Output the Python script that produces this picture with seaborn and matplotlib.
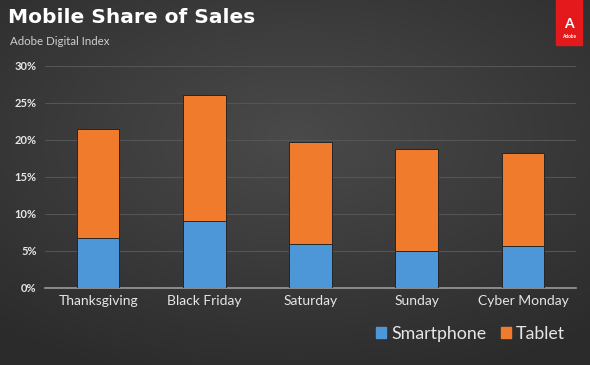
import numpy as np
import pandas as pd
import matplotlib
matplotlib.use("Agg")
import matplotlib.pyplot as plt
from matplotlib.patches import Rectangle, Patch
import seaborn as sns

# data (percent of sales)
categories = ["Thanksgiving", "Black Friday", "Saturday", "Sunday", "Cyber Monday"]
smartphone = [6.7, 9.0, 6.0, 5.0, 5.7]
tablet = [14.8, 17.0, 13.7, 13.7, 12.5]
yticks = [0, 5, 10, 15, 20, 25, 30]

BLUE = "#4d97d8"
ORANGE = "#f07b2c"
TXT = "#e6e6e6"

df = pd.DataFrame({"day": categories,
                   "Smartphone": smartphone,
                   "Tablet": tablet})
df["total"] = df["Smartphone"] + df["Tablet"]

sns.set_theme(style="dark")
plt.rcParams["font.family"] = ["Lato", "DejaVu Sans"]

fig = plt.figure(figsize=(5.9, 3.65), dpi=100)

# dark gradient backdrop, lighter towards the upper middle
bg = fig.add_axes([0, 0, 1, 1], zorder=-10)
xx, yy = np.meshgrid(np.linspace(-1, 1, 300), np.linspace(-1, 1, 200))
r = np.sqrt((xx * 0.9) ** 2 + ((yy + 0.25) * 1.0) ** 2)
shade = 0.29 - 0.12 * np.clip(r, 0, 1.4) / 1.4
bg.imshow(np.dstack([shade] * 3), aspect="auto", extent=[0, 1, 0, 1])
bg.set_axis_off()

ax = fig.add_axes([45 / 590, 77 / 365, 531 / 590, 222.5 / 365])
ax.set_facecolor("none")

sns.barplot(data=df, x="day", y="total", color=ORANGE, width=0.4,
            saturation=1, edgecolor="#262626", linewidth=0.7, ax=ax, zorder=3)
sns.barplot(data=df, x="day", y="Smartphone", color=BLUE, width=0.4,
            saturation=1, edgecolor="#262626", linewidth=0.7, ax=ax, zorder=4)

ax.set_xlim(-0.5, 4.5)
ax.set_ylim(0, 30)
ax.set_yticks(yticks)
ax.set_yticklabels([f"{v}%" for v in yticks], color=TXT, fontsize=8, fontweight="bold")
ax.tick_params(axis="y", pad=6, length=0)
ax.tick_params(axis="x", pad=5, length=0, labelsize=10, labelcolor=TXT)
ax.set_xlabel("")
ax.set_ylabel("")
ax.grid(axis="y", color="#555555", linewidth=0.8, zorder=0)
ax.grid(axis="x", visible=False)
for s in ["top", "right", "left"]:
    ax.spines[s].set_visible(False)
ax.spines["bottom"].set_color("#9a9a9a")
ax.spines["bottom"].set_linewidth(1.2)

# title block
fig.text(8 / 590, 1 - 8 / 365, "Mobile Share of Sales", color="white",
         fontsize=14.5, fontweight="bold", family="DejaVu Sans", va="top")
fig.text(10 / 590, 1 - 36 / 365, "Adobe Digital Index", color="#cfcfcf",
         fontsize=8.3, va="top")

# adobe tag
fig.patches.append(Rectangle((556 / 590, 1 - 45 / 365), 26 / 590, 45 / 365,
                             transform=fig.transFigure, color="#e3191b", zorder=5))
fig.text(569 / 590, 1 - 24 / 365, "A", color="white", fontsize=10,
         fontweight="bold", ha="center", va="center", zorder=6)
fig.text(569 / 590, 1 - 36 / 365, "Adobe", color="white", fontsize=3.5,
         fontweight="bold", ha="center", va="center", zorder=6)

handles = [Patch(color=BLUE, label="Smartphone"), Patch(color=ORANGE, label="Tablet")]
leg = fig.legend(handles=handles, loc="lower right", bbox_to_anchor=(0.985, 0.02),
                 ncol=2, frameon=False, fontsize=12.8, handlelength=0.55,
                 handleheight=0.55, handletextpad=0.3, columnspacing=0.8)
for t in leg.get_texts():
    t.set_color(TXT)

fig.savefig("out.png", dpi=100)
